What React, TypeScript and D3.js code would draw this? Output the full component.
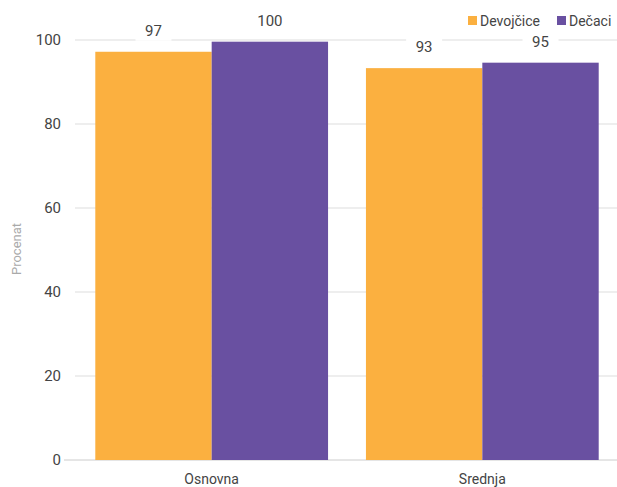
import React from "react";
import * as d3 from "d3";

const categories = ["Osnovna", "Srednja"];
const seriesNames = ["Devojčice", "Dečaci"];
const girls = [97.2, 93.3];
const boys = [99.6, 94.6];
const yTicks = [0, 20, 40, 60, 80, 100];
const colors = ["#FBB040", "#6950A1"];

export default function App() {
  const W = 617, H = 487;
  const x = d3.scaleBand<string>().domain(categories).range([75, 619]).paddingInner(0.14).paddingOuter(0.075);
  const x1 = d3.scaleBand<string>().domain(seriesNames).range([0, x.bandwidth()]);
  const y = d3.scaleLinear().domain([0, 100]).range([460, 40]);
  const values = [girls, boys];
  const font = "Roboto, 'Liberation Sans', sans-serif";
  return (
    <svg width={W} height={H} style={{ position: "absolute", left: 0, top: 0, fontFamily: font }}>
      <rect width={W} height={H} fill="#fff" />
      {yTicks.map((t) => (
        <g key={t}>
          <line x1={t === 0 ? 64 : 75} x2={617} y1={y(t)} y2={y(t)} stroke={t === 0 ? "#ccc" : "#ddd"} strokeWidth={1} />
          <text x={61} y={y(t)} dy="0.35em" textAnchor="end" fontSize={15} fill="#444">{t}</text>
        </g>
      ))}
      {categories.map((c, i) => (
        <g key={c}>
          {seriesNames.map((s, j) => (
            <rect key={s} x={x(c)! + x1(s)!} y={y(values[j][i])} width={x1.bandwidth()} height={y(0) - y(values[j][i])} fill={colors[j]} />
          ))}
          <text x={x(c)! + x.bandwidth() / 2} y={484} textAnchor="middle" fontSize={14} fill="#444">{c}</text>
        </g>
      ))}
      {categories.map((c, i) =>
        seriesNames.map((s, j) => {
          const cx = x(c)! + x1(s)! + x1.bandwidth() / 2;
          const ty = y(values[j][i]) - 21;
          const label = String(Math.round(values[j][i]));
          return (
            <g key={c + s}>
              <rect x={cx - 18} y={ty - 10} width={36} height={20} fill="#fff" />
              <text x={cx} y={ty} dy="0.35em" textAnchor="middle" fontSize={15} fill="#444">{label}</text>
            </g>
          );
        })
      )}
      <text transform={`translate(21,249) rotate(-90)`} textAnchor="middle" fontSize={13} fill="#aaa">Procenat</text>
      <g>
        <rect x={468} y={16} width={9} height={9} fill={colors[0]} />
        <text x={480} y={21} dy="0.35em" fontSize={14} fill="#444">{seriesNames[0]}</text>
        <rect x={557} y={16} width={9} height={9} fill={colors[1]} />
        <text x={569} y={21} dy="0.35em" fontSize={14} fill="#444">{seriesNames[1]}</text>
      </g>
    </svg>
  );
}
